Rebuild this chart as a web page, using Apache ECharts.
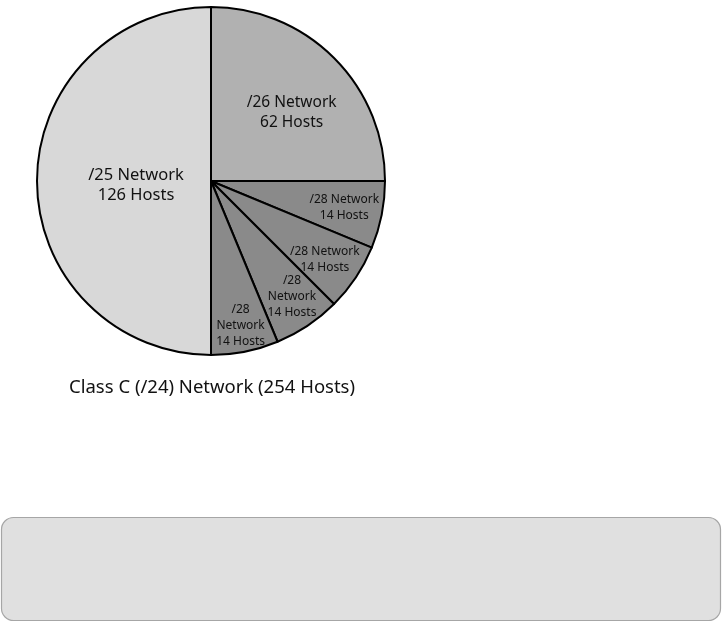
<!DOCTYPE html>
<html lang="en">
<head>
    <meta charset="UTF-8">
    <title>Class C subnets</title>
    <script src="https://cdn.jsdelivr.net/npm/echarts@6/dist/echarts.min.js"></script>
    <style>
        body { margin: 0; background: #fff; }
    </style>
</head>
<body>
<div style="width:722px;height:623px" id="main"></div>
<script>
// subnet blocks, clockwise from 12 o'clock; size = addresses in the block
var subnets = ['/26', '/28', '/28', '/28', '/28', '/25'];
var addresses = [64, 16, 16, 16, 16, 128];
var hosts = [62, 14, 14, 14, 14, 126];
var colors = ['#b1b1b1', '#8a8a8a', '#8a8a8a', '#8a8a8a', '#8a8a8a', '#d8d8d8'];
var titleText = 'Class C (/24) Network (254 Hosts)';

// label nudges away from the default "inside" spot
var nudge = [[17, -5], [45, 9], [39, 29], [31, 41], [12, 56], [15, 4]];

var myChart = echarts.init(document.getElementById('main'));

var pieData = [];
for (var i = 0; i < subnets.length; i++) {
    var text;
    if (i == 3 || i == 4) {
        text = subnets[i] + '\nNetwork\n' + hosts[i] + ' Hosts';
    } else {
        text = subnets[i] + ' Network\n' + hosts[i] + ' Hosts';
    }
    var small = addresses[i] < 32;
    var big = addresses[i] > 100;
    pieData.push({
        value: addresses[i],
        name: text,
        itemStyle: { color: colors[i] },
        label: {
            fontSize: small ? 12 : (big ? 16.5 : 15.5),
            lineHeight: small ? 16 : 20
        }
    });
}

var option = {
    backgroundColor: '#ffffff',
    animation: false,
    title: {
        text: titleText,
        left: 64,
        top: 373,
        textStyle: {
            fontFamily: 'Noto Sans',
            fontWeight: 'normal',
            fontSize: 18.5,
            color: '#111'
        }
    },
    graphic: [{
        type: 'rect',
        shape: { x: 1.5, y: 517.5, width: 719, height: 103, r: 12 },
        style: { fill: '#e0e0e0', stroke: '#a6a6a6', lineWidth: 1.2 }
    }],
    series: [{
        type: 'pie',
        center: [211, 181],
        radius: [0, 174],
        startAngle: 90,
        clockwise: true,
        silent: true,
        data: pieData,
        itemStyle: {
            borderColor: '#000',
            borderWidth: 2
        },
        label: {
            show: true,
            position: 'inside',
            formatter: '{b}',
            color: '#111',
            fontFamily: 'Noto Sans',
            align: 'center'
        },
        labelLine: { show: false },
        labelLayout: function (p) {
            return { dx: nudge[p.dataIndex][0], dy: nudge[p.dataIndex][1] };
        }
    }]
};

myChart.setOption(option);
</script>
</body>
</html>
